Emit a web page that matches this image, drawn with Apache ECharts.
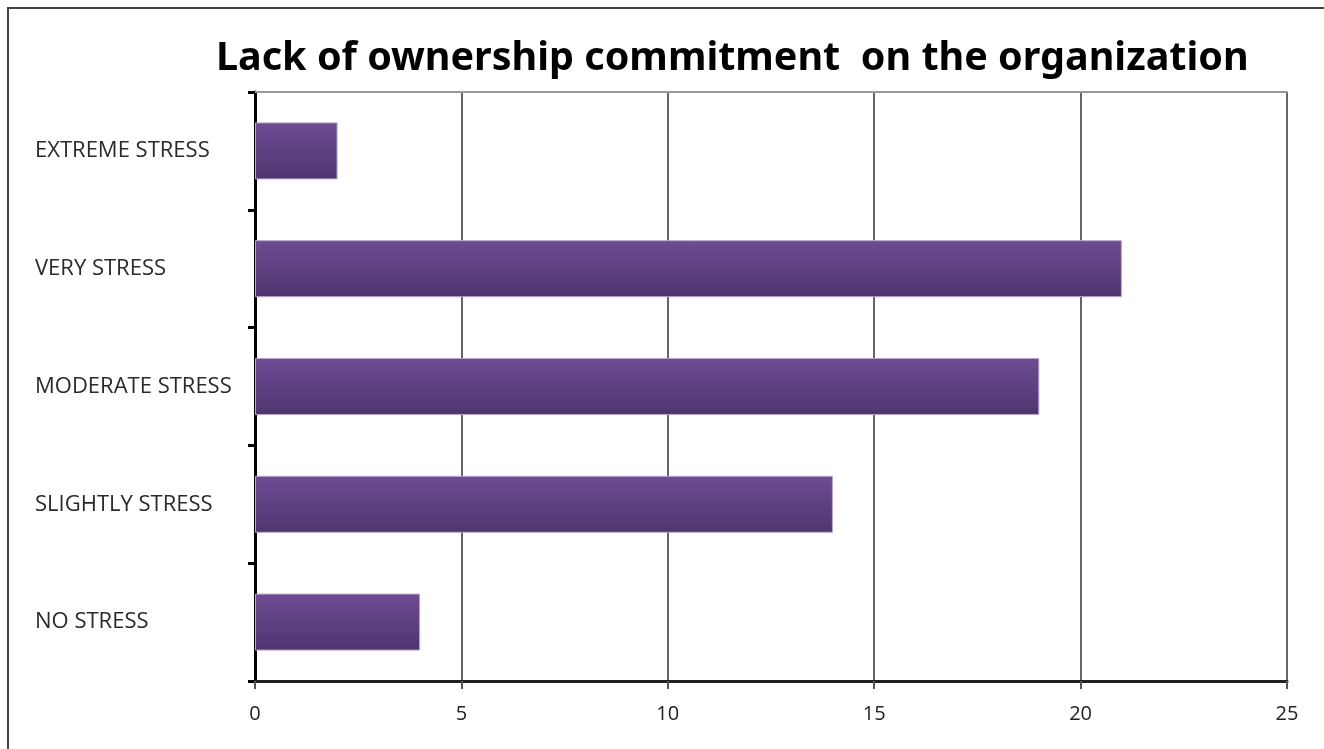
<!DOCTYPE html>
<html>

<head>
  <meta charset="utf-8">
  <script src="https://cdn.jsdelivr.net/npm/echarts@6/dist/echarts.min.js"></script>
  <style>
    body {
      margin: 0;
      background: #fff;
    }

    #chart {
      width: 1324px;
      height: 749px;
    }
  </style>
</head>

<body>
  <div id="chart"></div>
  <script>
    // categories listed bottom to top
    const categories = ['NO STRESS', 'SLIGHTLY STRESS', 'MODERATE STRESS', 'VERY STRESS', 'EXTREME STRESS']
    const counts = [4, 14, 19, 21, 2]
    const xTicks = [0, 5, 10, 15, 20, 25]

    const option = {
      backgroundColor: '#fff',
      animation: false,
      title: {
        text: 'Lack of ownership commitment  on the organization',
        left: 211,
        top: 34,
        textStyle: {
          fontFamily: 'Noto Sans',
          fontWeight: 'bold',
          fontSize: 39.5,
          color: '#000'
        }
      },
      graphic: [{
        type: 'polyline',
        shape: { points: [[8, 749], [8, 8], [1324, 8]] },
        style: { stroke: '#444', lineWidth: 2, fill: null }
      }],
      grid: {
        left: 255,
        right: 37,
        top: 92,
        bottom: 68
      },
      xAxis: [{
        type: 'value',
        min: xTicks[0],
        max: xTicks[xTicks.length - 1],
        interval: 5,
        axisLine: { show: true, lineStyle: { color: '#222', width: 3 } },
        axisTick: { show: true, length: 8, lineStyle: { color: '#555', width: 2 } },
        axisLabel: {
          margin: 23,
          fontFamily: 'Open Sans',
          fontSize: 20,
          color: '#222'
        },
        splitLine: { show: true, lineStyle: { color: '#666', width: 2 } }
      }, {
        type: 'value',
        position: 'top',
        min: xTicks[0],
        max: xTicks[xTicks.length - 1],
        axisLine: { show: true, lineStyle: { color: '#999', width: 2 } },
        axisTick: { show: false },
        axisLabel: { show: false },
        splitLine: { show: false }
      }],
      yAxis: {
        type: 'category',
        data: categories,
        axisLine: { lineStyle: { color: '#000', width: 3 } },
        axisTick: { show: true, length: 7, lineStyle: { color: '#000', width: 3 } },
        axisLabel: {
          align: 'left',
          margin: 220,
          fontFamily: 'Open Sans',
          fontSize: 22,
          color: '#2a2a2a'
        }
      },
      series: [{
        type: 'bar',
        data: counts,
        barWidth: 57,
        itemStyle: {
          color: new echarts.graphic.LinearGradient(0, 0, 0, 1, [
            { offset: 0, color: '#6e4c93' },
            { offset: 1, color: '#4f3570' }
          ]),
          borderColor: '#b9a7cf',
          borderWidth: 1
        }
      }]
    }

    const chart = echarts.init(document.getElementById('chart'))
    chart.setOption(option)
  </script>
</body>

</html>
